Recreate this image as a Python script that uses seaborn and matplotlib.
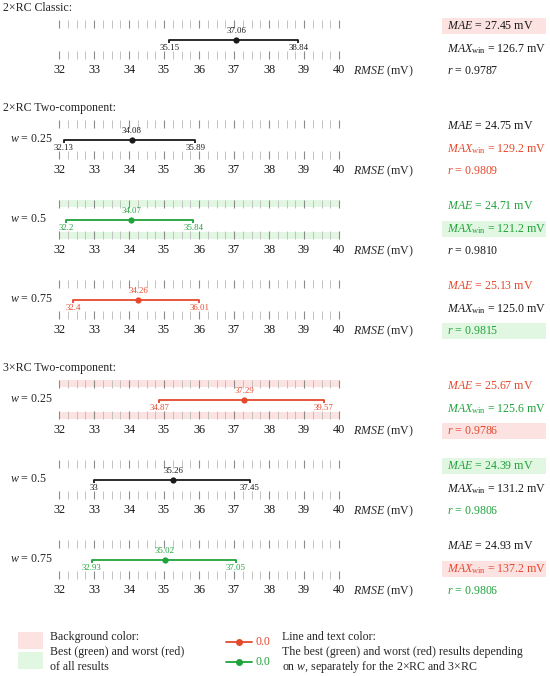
import matplotlib
matplotlib.use("Agg")
import matplotlib.pyplot as plt
from matplotlib.patches import Rectangle
from matplotlib.lines import Line2D
import seaborn as sns
import pandas as pd

# ---------------- data ----------------
section_titles = ["2×RC Classic:", "2×RC Two-component:", "3×RC Two-component:"]
panel_section = [0, 1, 1, 1, 2, 2, 2]
w_labels = [None, "0.25", "0.5", "0.75", "0.25", "0.5", "0.75"]
rmse_mean = [37.06, 34.08, 34.07, 34.26, 37.29, 35.26, 35.02]
rmse_low = [35.15, 32.13, 32.2, 32.4, 34.87, 33, 32.93]
rmse_high = [38.84, 35.89, 35.84, 36.01, 39.57, 37.45, 37.05]
mae = [27.45, 24.75, 24.71, 25.13, 25.67, 24.39, 24.93]
max_win = [126.7, 129.2, 121.2, 125.0, 125.6, 131.2, 137.2]
r_vals = [0.9787, 0.9809, 0.9810, 0.9815, 0.9786, 0.9806, 0.9806]
x_ticks = [32, 33, 34, 35, 36, 37, 38, 39, 40]

# colour codes: k = neutral, g = best, r = worst (per w)
line_color = ["k", "k", "g", "r", "r", "k", "g"]
mae_color = ["k", "k", "g", "r", "r", "g", "k"]
max_color = ["k", "r", "g", "k", "g", "k", "r"]
r_color = ["k", "r", "k", "g", "r", "g", "g"]
# background highlight (best/worst of all results)
mae_bg = ["r", None, None, None, None, "g", None]
max_bg = [None, None, "g", None, None, None, "r"]
r_bg = [None, None, None, "g", "r", None, None]
tick_bg = [None, None, "g", None, "r", None, None]

# ---------------- style ----------------
sns.set_theme(style="white")
plt.rcParams["font.family"] = ["Liberation Serif", "DejaVu Serif"]
plt.rcParams["mathtext.fontset"] = "custom"
plt.rcParams["mathtext.rm"] = "Liberation Serif"
plt.rcParams["mathtext.it"] = "Liberation Serif:italic"
plt.rcParams["mathtext.bf"] = "Liberation Serif:bold"

COL = {"k": "#1a1a1a", "g": "#1fa33a", "r": "#e5482c"}
BG = {"g": "#e2f7e2", "r": "#fde2e2"}

W, H = 550, 676
fig = plt.figure(figsize=(W / 100, H / 100), dpi=100)


def fx(x):
    return x / W


def fy(y):
    return 1 - y / H


FS = 8.6
FS_T = 8.8
FS_S = 6.3

label_rows = [71, 171, 251, 331, 431, 511, 591]
X0, X1 = 59, 339

# section titles
shown = set()
for i, L in enumerate(label_rows):
    s = panel_section[i]
    if s not in shown:
        shown.add(s)
        fig.text(fx(3), fy(L - 63), section_titles[s], fontsize=FS, va="center", ha="left")

for i, L in enumerate(label_rows):
    top, bot = L - 51, L - 12
    ax = fig.add_axes([fx(X0), fy(bot), (X1 - X0) / W, (bot - top) / H])
    ax.set_xlim(32, 40)
    ax.set_ylim(-1, 1)
    for sp in ax.spines.values():
        sp.set_visible(False)
    ax.set_facecolor("none")
    ax.set_xticks(x_ticks)
    ax.set_xticks([32 + 0.25 * k for k in range(33)], minor=True)
    ax.set_xticklabels([str(t) for t in x_ticks])
    ax.set_yticks([])
    ax.tick_params(axis="x", which="major", direction="in", top=True, bottom=True,
                   length=6, width=0.8, color="#8a8a8a", labelsize=FS_T, pad=3.5,
                   labelcolor="#1a1a1a")
    ax.tick_params(axis="x", which="minor", direction="in", top=True, bottom=True,
                   length=6, width=0.7, color="#c2c2c2")
    if tick_bg[i]:
        bh = 7 / (bot - top)
        ax.add_patch(Rectangle((0, 0), 1, bh, transform=ax.transAxes,
                               color=BG[tick_bg[i]], zorder=0, lw=0))
        ax.add_patch(Rectangle((0, 1 - bh), 1, bh, transform=ax.transAxes,
                               color=BG[tick_bg[i]], zorder=0, lw=0))
    c = COL[line_color[i]]
    df = pd.DataFrame({"rmse": [rmse_low[i], rmse_high[i]], "y": [0, 0]})
    sns.lineplot(data=df, x="rmse", y="y", ax=ax, color=c, lw=1.3, zorder=3)
    ax.vlines([rmse_low[i], rmse_high[i]], -0.2, 0, color=c, lw=1.3, zorder=3)
    sns.scatterplot(x=[rmse_mean[i]], y=[0], ax=ax, color=c, s=20, edgecolor=c,
                    linewidth=0, zorder=4)
    ax.set_xlabel("")
    ax.set_ylabel("")
    ax.annotate(f"{rmse_mean[i]:g}", (rmse_mean[i], 0), xytext=(0, 3),
                textcoords="offset points", ha="center", va="bottom",
                fontsize=FS_S, color=c)
    for v in (rmse_low[i], rmse_high[i]):
        ax.annotate(f"{v:g}", (v, 0), xytext=(0, -3), textcoords="offset points",
                    ha="center", va="top", fontsize=FS_S, color=c)

    # axis title
    fig.text(fx(353), fy(L), r"$RMSE$ (mV)", fontsize=FS, va="center", ha="left")
    # w label
    if w_labels[i]:
        fig.text(fx(10), fy(L - 32), rf"$w$ = {w_labels[i]}", fontsize=FS,
                 va="center", ha="left")

    # right-hand metrics
    items = [
        (L - 45, rf"$MAE$ = {mae[i]:.2f} mV", mae_color[i], mae_bg[i]),
        (L - 22, rf"$MAX_{{\mathrm{{win}}}}$ = {max_win[i]:.1f} mV", max_color[i], max_bg[i]),
        (L, rf"$r$ = {r_vals[i]:.4f}", r_color[i], r_bg[i]),
    ]
    for yy, txt, col, bg in items:
        if bg:
            fig.patches.append(Rectangle((fx(442), fy(yy + 8)), 104 / W, 16 / H,
                                         transform=fig.transFigure, color=BG[bg],
                                         lw=0, zorder=0))
        fig.text(fx(447), fy(yy), txt, fontsize=FS, va="center", ha="left",
                 color=COL[col], zorder=2)

# ---------------- legend ----------------
fig.patches.append(Rectangle((fx(18), fy(649)), 25 / W, 17 / H, transform=fig.transFigure,
                             color=BG["r"], lw=0))
fig.patches.append(Rectangle((fx(18), fy(669)), 25 / W, 17 / H, transform=fig.transFigure,
                             color=BG["g"], lw=0))
for k, t in enumerate(["Background color:", "Best (green) and worst (red)", "of all results"]):
    fig.text(fx(50), fy(637 + 15 * k), t, fontsize=FS, va="center", ha="left")

for yy, key in ((642, "r"), (662, "g")):
    fig.lines.append(Line2D([fx(226), fx(252)], [fy(yy), fy(yy)], transform=fig.transFigure,
                            color=COL[key], lw=1.3))
    fig.lines.append(Line2D([fx(239)], [fy(yy)], transform=fig.transFigure, marker="o",
                            markersize=4, color=COL[key], lw=0))
    fig.text(fx(255), fy(yy), "0.0", fontsize=FS, va="center", ha="left", color=COL[key])

for k, t in enumerate(["Line and text color:",
                       "The best (green) and worst (red) results depending",
                       r"on $w$, separately for the 2×RC and 3×RC"]):
    fig.text(fx(282), fy(637 + 15 * k), t, fontsize=FS, va="center", ha="left")

fig.savefig("out.png", dpi=100)
